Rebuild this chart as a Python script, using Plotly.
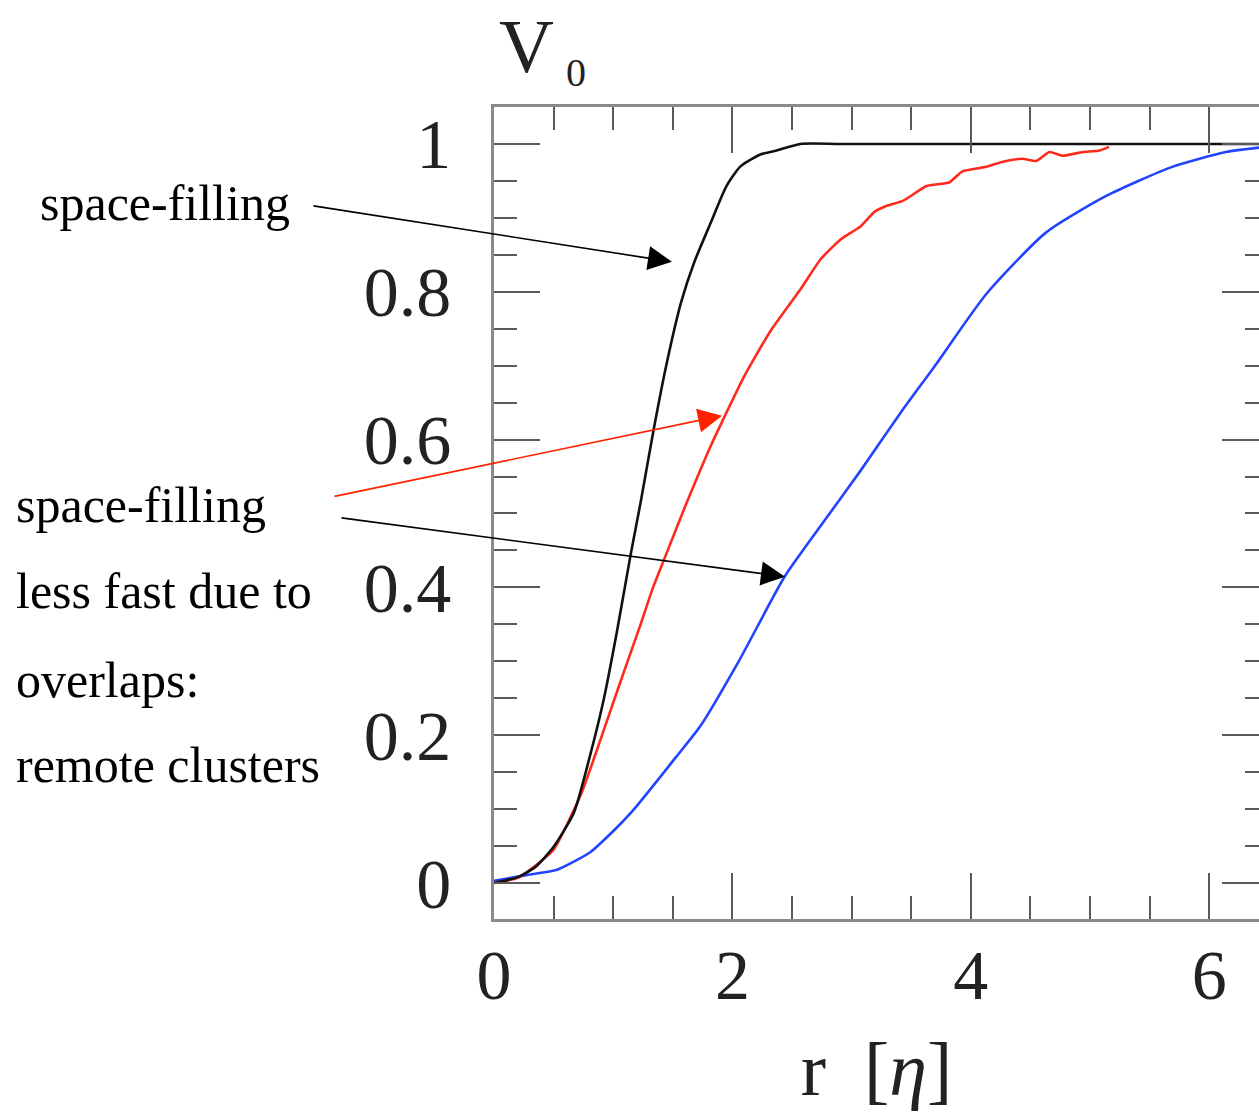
import plotly.graph_objects as go

# Covered volume fraction V0 as a function of radius r (in units of eta)
black_r = [0, 0.2, 0.35, 0.5, 0.67, 0.81, 0.92, 1.03, 1.146, 1.23, 1.34, 1.45, 1.57, 1.68,
           1.82, 1.95, 2.07, 2.24, 2.37, 2.57, 2.9, 3.5, 4.5, 5.5, 6.42]
black_v = [0, 0.008, 0.022, 0.049, 0.095, 0.175, 0.248, 0.339, 0.444, 0.515, 0.614, 0.704,
           0.786, 0.84, 0.894, 0.943, 0.970, 0.986, 0.991, 1.0, 1.0, 1.0, 1.0, 1.0, 1.0]

red_r = [0, 0.2, 0.335, 0.5, 0.73, 0.90, 1.06, 1.23, 1.33, 1.44, 1.60, 1.82, 2.10, 2.32,
         2.57, 2.74, 2.91, 3.08, 3.19, 3.29, 3.43, 3.63, 3.82, 3.93, 4.13, 4.27, 4.43,
         4.55, 4.66, 4.77, 4.94, 5.08, 5.16]
red_v = [0, 0.007, 0.022, 0.045, 0.12, 0.197, 0.272, 0.350, 0.398, 0.443, 0.508, 0.592,
         0.686, 0.747, 0.803, 0.844, 0.871, 0.889, 0.908, 0.916, 0.923, 0.943, 0.948,
         0.963, 0.969, 0.976, 0.980, 0.977, 0.989, 0.984, 0.989, 0.991, 0.996]

blue_r = [0, 0.28, 0.53, 0.81, 0.98, 1.17, 1.53, 1.73, 2.06, 2.44, 2.735, 3.08, 3.41,
          3.70, 4.13, 4.63, 5.14, 5.69, 6.14, 6.42]
blue_v = [0.003, 0.011, 0.018, 0.042, 0.067, 0.099, 0.171, 0.212, 0.302, 0.415, 0.482,
          0.559, 0.636, 0.700, 0.797, 0.880, 0.930, 0.969, 0.989, 0.995]

x_ticks = [0, 2, 4, 6]
y_ticks = [0, 0.2, 0.4, 0.6, 0.8, 1]
y_tick_text = ["0", "0.2", "0.4", "0.6", "0.8", "1"]

X_RANGE = [0, 6.418]
Y_RANGE = [-0.0487, 1.050]

FRAME = "#8a8a8a"
TICK = "#5a5a5a"
SERIF = "Liberation Serif"

fig = go.Figure()
fig.add_trace(go.Scatter(x=blue_r, y=blue_v, mode="lines",
                         line=dict(color="#2244ff", width=2.6, shape="spline", smoothing=0.6),
                         showlegend=False))
fig.add_trace(go.Scatter(x=red_r, y=red_v, mode="lines",
                         line=dict(color="#ff2a1c", width=2.6, shape="spline", smoothing=0.5),
                         showlegend=False))
fig.add_trace(go.Scatter(x=black_r, y=black_v, mode="lines",
                         line=dict(color="#111111", width=2.6, shape="spline", smoothing=0.6),
                         showlegend=False))
# empty trace so the right-hand tick axis is rendered
fig.add_trace(go.Scatter(x=[], y=[], yaxis="y2", showlegend=False))

fig.update_layout(
    width=1259, height=1116,
    margin=dict(l=494, r=0, t=107, b=197),
    paper_bgcolor="white", plot_bgcolor="white",
    showlegend=False,
    xaxis=dict(
        range=X_RANGE, tickvals=x_ticks, ticktext=[str(v) for v in x_ticks],
        showline=True, linecolor=FRAME, linewidth=2.5, mirror="ticks",
        ticks="inside", ticklen=46, tickwidth=2, tickcolor=TICK,
        minor=dict(dtick=0.5, tick0=0, ticks="inside", ticklen=23,
                   tickwidth=2, tickcolor=TICK, showgrid=False),
        showgrid=False, zeroline=False,
        tickfont=dict(family=SERIF, size=70, color="#222"),
        ticklabelstandoff=-7,
        title=dict(text="r  [<i>\u03b7</i>]", font=dict(family=SERIF, size=76, color="#222"),
                   standoff=30),
    ),
    yaxis=dict(
        range=Y_RANGE, tickvals=y_ticks, ticktext=y_tick_text,
        showline=True, linecolor=FRAME, linewidth=2.5, mirror=False,
        ticks="inside", ticklen=46, tickwidth=2, tickcolor=TICK,
        minor=dict(dtick=0.05, tick0=0, ticks="inside", ticklen=23,
                   tickwidth=2, tickcolor=TICK, showgrid=False),
        showgrid=False, zeroline=False,
        tickfont=dict(family=SERIF, size=70, color="#222"),
        ticklabelstandoff=26,
    ),
    yaxis2=dict(
        range=Y_RANGE, overlaying="y", side="right", anchor="x",
        tickvals=y_ticks, showticklabels=False, showline=False,
        ticks="inside", ticklen=37, tickwidth=2, tickcolor=TICK,
        minor=dict(dtick=0.05, tick0=0, ticks="inside", ticklen=14,
                   tickwidth=2, tickcolor=TICK, showgrid=False),
        showgrid=False, zeroline=False,
    ),
)

# y-axis label "V" with subscript 0, above the top left corner of the frame
fig.add_annotation(text="V", xref="paper", yref="paper", x=0.004, y=1.129,
                   xanchor="left", yanchor="top", showarrow=False,
                   font=dict(family=SERIF, size=76, color="#222"))
fig.add_annotation(text="0", xref="paper", yref="paper", x=0.091, y=1.042,
                   xanchor="left", yanchor="middle", showarrow=False,
                   font=dict(family=SERIF, size=40, color="#222"))

# explanatory labels (x in paper units, y in data units)
TXT = dict(family=SERIF, size=50, color="black")
labels = [
    ("space-filling", -0.5960, 0.9205),
    ("space-filling", -0.6270, 0.512),
    ("less fast due to", -0.6270, 0.3955),
    ("overlaps:", -0.6270, 0.2752),
    ("remote clusters", -0.6270, 0.1602),
]
for text, lx, ly in labels:
    fig.add_annotation(text=text, xref="paper", yref="y", x=lx, y=ly,
                       xanchor="left", yanchor="middle", showarrow=False, font=TXT)

# arrows pointing at the curves: (tail_x, tail_y, head_x, head_y, color)
arrows = [
    (-1.527, 0.9165, 1.493, 0.8405, "black"),
    (-1.351, 0.5227, 1.913, 0.6324, "#ff2200"),
    (-1.292, 0.4943, 2.441, 0.4145, "black"),
]
for tx, ty, hx, hy, col in arrows:
    fig.add_annotation(x=hx, y=hy, xref="x", yref="y", ax=tx, ay=ty, axref="x", ayref="y",
                       text="", showarrow=True, arrowhead=2, arrowsize=3,
                       arrowwidth=1.6, arrowcolor=col)

fig.write_html("out.html")
